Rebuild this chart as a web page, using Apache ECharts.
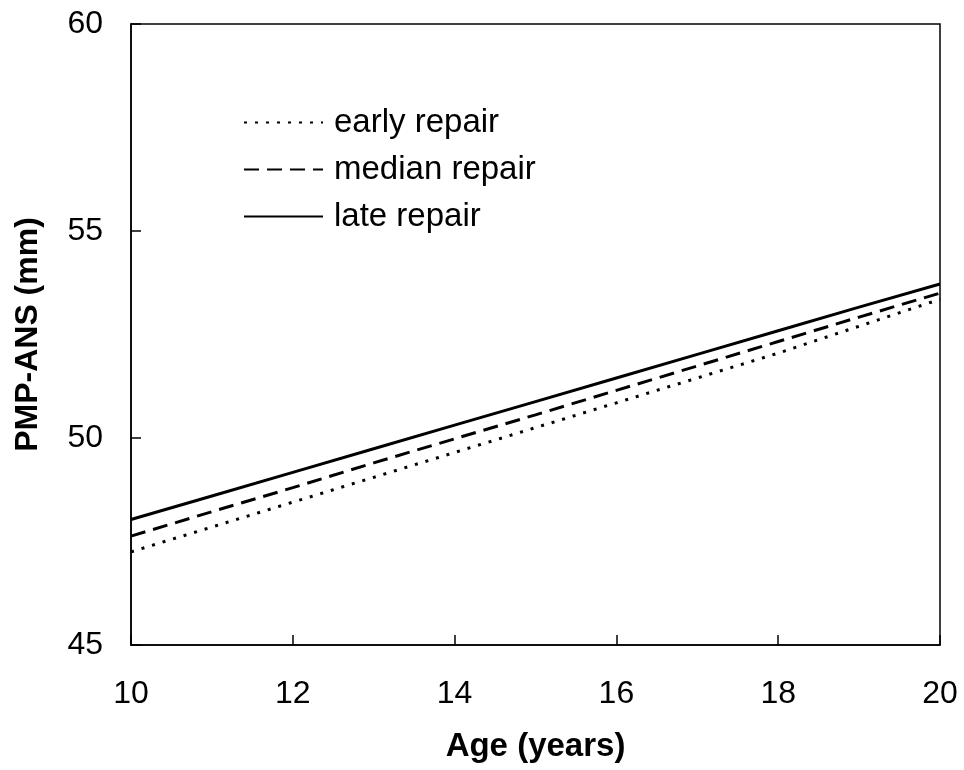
<!DOCTYPE html>
<html><head><meta charset="utf-8">
<script src="https://cdn.jsdelivr.net/npm/echarts@6/dist/echarts.min.js"></script>
<style>html,body{margin:0;padding:0;background:#fff}#c{width:964px;height:770px}</style>
</head><body><div id="c"></div>
<script>
const ages = [10, 11, 12, 13, 14, 15, 16, 17, 18, 19, 20];
const early = [47.25, 47.85, 48.45, 49.05, 49.65, 50.25, 50.85, 51.45, 52.05, 52.7, 53.35];
const median = [47.63, 48.22, 48.8, 49.4, 49.98, 50.56, 51.15, 51.74, 52.33, 52.92, 53.5];
const late = [48.03, 48.6, 49.17, 49.74, 50.31, 50.88, 51.45, 52.02, 52.59, 53.16, 53.72];
const seriesNames = ['early repair', 'median repair', 'late repair'];
const xTicks = {min: 10, max: 20, interval: 2};
const yTicks = {min: 45, max: 60, interval: 5};

const font = 'Liberation Sans, Arial, sans-serif';
const pair = arr => ages.map((a, i) => [a, arr[i]]);
const chart = echarts.init(document.getElementById('c'));
chart.setOption({
  animation: false,
  backgroundColor: '#fff',
  grid: {left: 131, right: 24, top: 24, bottom: 125, show: true, borderColor: '#000', borderWidth: 1.5, backgroundColor: 'transparent'},
  legend: {
    orient: 'vertical', left: 243, top: 106, padding: 0, itemWidth: 79, itemHeight: 33, itemGap: 14,
    itemStyle: {opacity: 0},
    lineStyle: {width: 2},
    textStyle: {fontFamily: font, fontSize: 33, color: '#000', padding: [0, 0, 0, 6]},
    data: seriesNames
  },
  xAxis: {
    type: 'value', min: xTicks.min, max: xTicks.max, interval: xTicks.interval,
    name: 'Age (years)', nameLocation: 'middle', nameGap: 85,
    nameTextStyle: {fontFamily: font, fontSize: 33, fontWeight: 'bold', color: '#000'},
    axisLine: {show: true, lineStyle: {color: '#000', width: 1.5}},
    axisTick: {show: true, inside: true, length: 10, lineStyle: {color: '#000', width: 1.5}},
    axisLabel: {fontFamily: font, fontSize: 32, color: '#000', margin: 33},
    splitLine: {show: false}
  },
  yAxis: {
    type: 'value', min: yTicks.min, max: yTicks.max, interval: yTicks.interval,
    name: 'PMP-ANS (mm)', nameLocation: 'middle', nameGap: 87,
    nameTextStyle: {fontFamily: font, fontSize: 32, fontWeight: 'bold', color: '#000'},
    axisLine: {show: true, lineStyle: {color: '#000', width: 1.5}},
    axisTick: {show: true, inside: true, length: 10, lineStyle: {color: '#000', width: 1.5}},
    axisLabel: {fontFamily: font, fontSize: 32, color: '#000', margin: 28},
    splitLine: {show: false}
  },
  series: [
    {name: seriesNames[0], type: 'line', data: pair(early), symbol: 'none', color: '#000',
     lineStyle: {color: '#000', width: 3, type: [3, 8]}},
    {name: seriesNames[1], type: 'line', data: pair(median), symbol: 'none', color: '#000',
     lineStyle: {color: '#000', width: 3, type: [15, 8]}},
    {name: seriesNames[2], type: 'line', data: pair(late), symbol: 'none', color: '#000',
     lineStyle: {color: '#000', width: 3, type: 'solid'}}
  ]
});
</script></body></html>
